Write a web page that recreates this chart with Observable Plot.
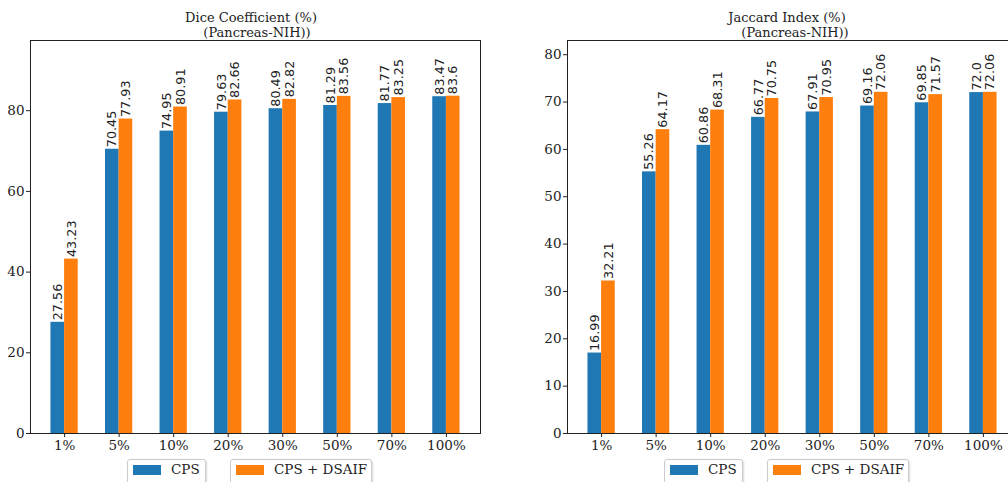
<!DOCTYPE html>
<html>
<head>
<meta charset="utf-8">
<script src="https://cdn.jsdelivr.net/npm/d3@7"></script>
<script src="https://cdn.jsdelivr.net/npm/@observablehq/plot@0.6"></script>
<style>
  html, body { margin: 0; padding: 0; background: white; }
  body { width: 1008px; height: 482px; overflow: hidden; position: relative; font-family: "DejaVu Serif", serif; color: #222; }
  .panel { position: absolute; top: 0; }
  .title { position: absolute; font-family: "DejaVu Serif", serif; font-size: 13px; white-space: pre; transform: translateX(-50%); z-index: 5; color: #222; line-height: 1; }
  .leg { position: absolute; top: 459px; height: 30px; border: 1px solid #ccc; border-radius: 3px; box-shadow: 1px 1px 2px rgba(0,0,0,0.15); background: white; z-index: 5; display: flex; align-items: flex-start; box-sizing: border-box; }
  .sw { width: 28px; height: 10px; margin-top: 5px; margin-left: 5px; margin-right: 10px; }
  .lt { font-family: "DejaVu Serif", serif; font-size: 13.5px; line-height: 1; margin-top: 3px; color: #222; }
</style>
</head>
<body>
<script>
const categories = ["1%", "5%", "10%", "20%", "30%", "50%", "70%", "100%"];
const seriesNames = ["CPS", "CPS + DSAIF"];
const colors = ["#1f77b4", "#ff7f0e"];
const diceCPS = [27.56, 70.45, 74.95, 79.63, 80.49, 81.29, 81.77, 83.47];
const diceDSAIF = [43.23, 77.93, 80.91, 82.66, 82.82, 83.56, 83.25, 83.6];
const jacCPS = [16.99, 55.26, 60.86, 66.77, 67.91, 69.16, 69.85, 72.0];
const jacDSAIF = [32.21, 64.17, 68.31, 70.75, 70.95, 72.06, 71.57, 72.06];
const diceTicks = [0, 20, 40, 60, 80];
const jacTicks = [0, 10, 20, 30, 40, 50, 60, 70, 80];

const W = 0.25;
function rows(a, b) {
  const out = [];
  [a, b].forEach((arr, s) => arr.forEach((v, i) => out.push({i, s, v, series: seriesNames[s]})));
  return out;
}
const fmt = v => Number.isInteger(v) ? v.toFixed(1) : String(v);

function panel(data, ymax, yticks, left, width, ml, mr) {
  const p = Plot.plot({
    width, height: 482,
    marginLeft: ml, marginRight: mr, marginTop: 40, marginBottom: 49,
    style: {fontFamily: "DejaVu Serif", fontSize: "13.5px", color: "#222", background: "transparent"},
    x: {domain: [-0.625, 7.625], ticks: d3.range(categories.length), tickFormat: i => categories[i], tickSize: 4, tickPadding: 3, label: null},
    y: {domain: [0, ymax], ticks: yticks, tickSize: 4, tickPadding: 2, label: null},
    color: {domain: seriesNames, range: colors},
    marks: [
      Plot.rectY(data, {x1: d => d.i - W + d.s * W, x2: d => d.i + d.s * W, y: "v", fill: "series", insetLeft: 0, insetRight: 0}),
      Plot.text(data, {x: d => d.i - W / 2 + d.s * W, y: "v", text: d => fmt(d.v), rotate: -90, textAnchor: "start", lineAnchor: "middle", dy: -2, fontFamily: "DejaVu Sans", fontSize: 12.8, fill: "#222"}),
      Plot.frame({stroke: "#222"})
    ]
  });
  p.classList.add("panel");
  p.style.left = left + "px";
  document.body.appendChild(p);
}

panel(rows(diceCPS, diceDSAIF), 97.4, diceTicks, 0, 500, 30, 20);
panel(rows(jacCPS, jacDSAIF), 83.0, jacTicks, 520, 520, 47, 23);

function title(text, x, y) {
  const d = document.createElement("div");
  d.className = "title";
  d.textContent = text;
  d.style.left = x + "px";
  d.style.top = y + "px";
  document.body.appendChild(d);
}
title("Dice Coefficient (%)", 251, 11);
title("(Pancreas-NIH))", 257, 26);
title("Jaccard Index (%)", 787, 11);
title("(Pancreas-NIH))", 795, 26);

function legend(x, w, s) {
  const d = document.createElement("div");
  d.className = "leg";
  d.style.left = x + "px";
  d.style.width = w + "px";
  d.innerHTML = `<div class="sw" style="background:${colors[s]}"></div><div class="lt">${seriesNames[s]}</div>`;
  document.body.appendChild(d);
}
legend(127, 79, 0);
legend(230, 142, 1);
legend(664, 79, 0);
legend(767, 142, 1);
</script>
</body>
</html>
